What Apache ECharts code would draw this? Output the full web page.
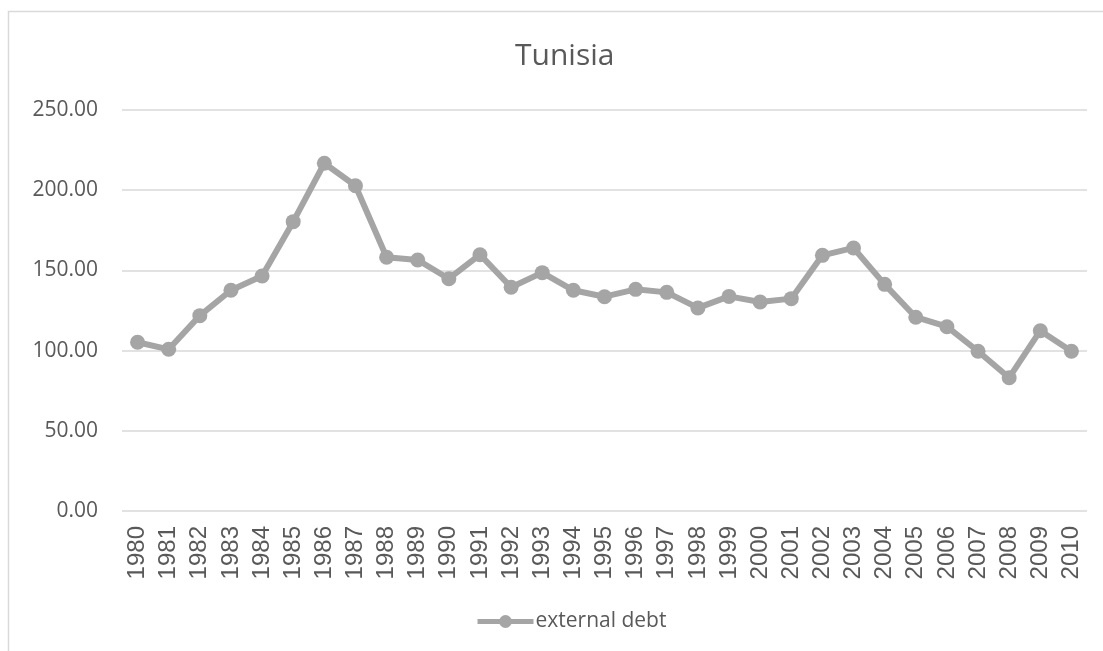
<!DOCTYPE html>
<html>
<head>
<meta charset="utf-8">
<title>Tunisia</title>
<script src="https://cdn.jsdelivr.net/npm/echarts@6/dist/echarts.min.js"></script>
<style>
  html, body { margin: 0; padding: 0; background: #ffffff; }
  #chart { width: 1103px; height: 651px; }
</style>
</head>
<body>
<div id="chart"></div>
<script>
// Years on the category axis
const years = ['1980','1981','1982','1983','1984','1985','1986','1987','1988','1989',
               '1990','1991','1992','1993','1994','1995','1996','1997','1998','1999',
               '2000','2001','2002','2003','2004','2005','2006','2007','2008','2009','2010'];

// External debt series
const externalDebt = [105.2, 100.8, 121.8, 137.6, 146.5, 180.4, 216.8, 202.8, 158.2, 156.5,
                      144.8, 159.8, 139.5, 148.6, 137.6, 133.6, 138.2, 136.3, 126.6, 133.8,
                      130.3, 132.4, 159.4, 164.0, 141.3, 120.8, 114.9, 99.6, 83.1, 112.4, 99.6];

// Value axis range
const yMin = 0;
const yMax = 250;
const yStep = 50;

const chart = echarts.init(document.getElementById('chart'), null, { renderer: 'canvas' });

chart.setOption({
  backgroundColor: '#ffffff',
  animation: false,
  graphic: [{
    type: 'rect',
    shape: { x: 8.5, y: 11.5, width: 1200, height: 700 },
    style: { fill: 'none', stroke: '#D9D9D9', lineWidth: 1.5 },
    silent: true,
    z: -1
  }],
  title: {
    text: 'Tunisia',
    left: 510,
    top: 36,
    textStyle: {
      fontFamily: 'Open Sans',
      fontSize: 30,
      fontWeight: 'normal',
      color: '#595959'
    }
  },
  legend: {
    data: ['external debt'],
    left: 470,
    top: 606,
    itemWidth: 56,
    itemHeight: 16,
    itemGap: 4,
    lineStyle: { width: 5, color: '#A5A5A5' },
    itemStyle: { color: '#A5A5A5' },
    textStyle: {
      fontFamily: 'Open Sans',
      fontSize: 21,
      color: '#595959',
      padding: [0, 0, 0, -3]
    }
  },
  grid: {
    left: 122,
    right: 16,
    top: 110,
    bottom: 140,
    containLabel: false
  },
  xAxis: {
    type: 'category',
    data: years,
    boundaryGap: true,
    axisLine: { show: false },
    axisTick: { show: false },
    axisLabel: {
      rotate: 90,
      interval: 0,
      margin: 15,
      fontFamily: 'Liberation Sans',
      fontSize: 24,
      color: '#595959'
    }
  },
  yAxis: {
    type: 'value',
    min: yMin,
    max: yMax,
    interval: yStep,
    axisLine: { show: false },
    axisTick: { show: false },
    axisLabel: {
      margin: 24,
      fontFamily: 'Open Sans',
      fontSize: 21,
      color: '#595959',
      formatter: v => v.toFixed(2)
    },
    splitLine: { lineStyle: { color: '#D9D9D9', width: 1.5 } }
  },
  series: [{
    name: 'external debt',
    type: 'line',
    data: externalDebt,
    symbol: 'circle',
    symbolSize: 15,
    lineStyle: { color: '#A5A5A5', width: 6 },
    itemStyle: { color: '#A5A5A5' }
  }]
});
</script>
</body>
</html>
